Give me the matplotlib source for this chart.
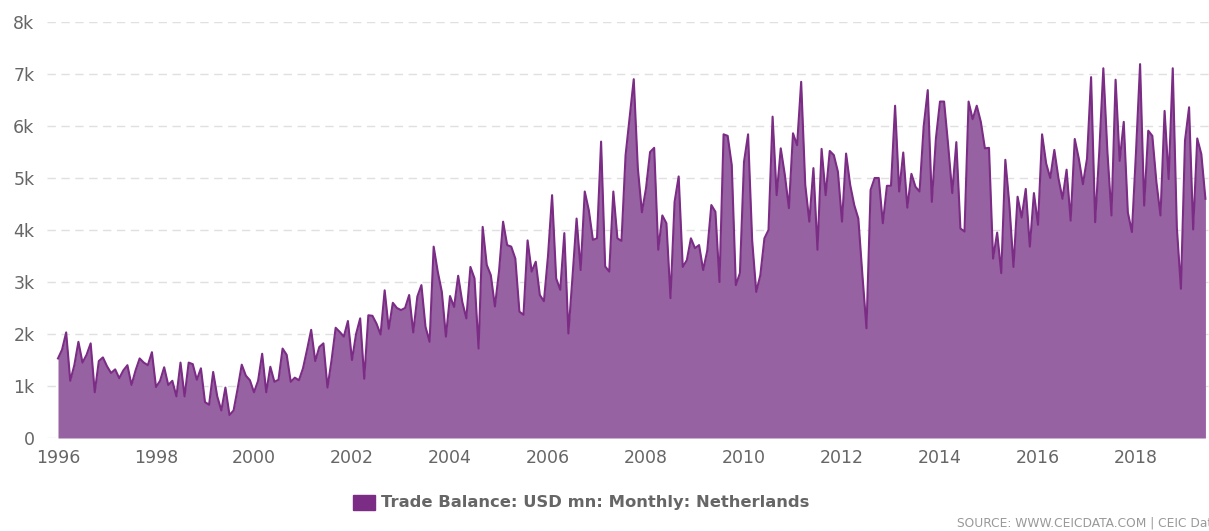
import numpy as np
import matplotlib
matplotlib.use('Agg')
import matplotlib.pyplot as plt
from matplotlib.patches import Rectangle

# Trade balance, USD mn, monthly (Netherlands), Jan 1996 - Jun 2019
y1996 = [1530, 1700, 2030, 1100, 1400, 1850, 1450, 1600, 1820, 880, 1480, 1550]
y1997 = [1380, 1250, 1320, 1150, 1300, 1400, 1020, 1300, 1530, 1450, 1400, 1650]
y1998 = [980, 1100, 1360, 1020, 1100, 800, 1450, 800, 1450, 1420, 1120, 1340]
y1999 = [690, 640, 1270, 800, 530, 970, 440, 530, 950, 1410, 1200, 1110]
y2000 = [880, 1100, 1620, 880, 1370, 1080, 1120, 1720, 1600, 1080, 1160, 1110]
y2001 = [1340, 1700, 2080, 1480, 1750, 1820, 970, 1500, 2120, 2040, 1950, 2250]
y2002 = [1500, 2000, 2300, 1140, 2360, 2350, 2200, 1990, 2840, 2100, 2600, 2500]
y2003 = [2460, 2500, 2750, 2030, 2720, 2940, 2140, 1850, 3680, 3200, 2810, 1950]
y2004 = [2730, 2520, 3120, 2620, 2300, 3290, 3070, 1720, 4060, 3330, 3130, 2530]
y2005 = [3200, 4160, 3710, 3680, 3450, 2430, 2370, 3800, 3200, 3390, 2750, 2630]
y2006 = [3500, 4670, 3070, 2850, 3940, 2010, 3100, 4220, 3230, 4740, 4380, 3810]
y2007 = [3840, 5700, 3300, 3200, 4740, 3840, 3790, 5440, 6180, 6900, 5190, 4340]
y2008 = [4800, 5500, 5580, 3620, 4280, 4130, 2690, 4540, 5030, 3290, 3420, 3840]
y2009 = [3650, 3710, 3230, 3600, 4480, 4350, 3000, 5840, 5810, 5250, 2940, 3170]
y2010 = [5310, 5840, 3800, 2810, 3130, 3840, 4000, 6180, 4670, 5570, 5060, 4420]
y2011 = [5860, 5630, 6850, 4870, 4160, 5190, 3620, 5560, 4670, 5520, 5440, 5120]
y2012 = [4160, 5470, 4870, 4480, 4220, 3130, 2110, 4770, 5000, 5000, 4130, 4850]
y2013 = [4850, 6390, 4740, 5490, 4430, 5080, 4830, 4740, 5990, 6690, 4540, 5760]
y2014 = [6470, 6470, 5630, 4710, 5690, 4030, 3970, 6470, 6130, 6390, 6080, 5570]
y2015 = [5580, 3450, 3950, 3170, 5350, 4480, 3290, 4640, 4240, 4790, 3680, 4710]
y2016 = [4100, 5840, 5280, 5000, 5540, 5000, 4600, 5160, 4180, 5750, 5370, 4880]
y2017 = [5370, 6940, 4150, 5500, 7110, 5500, 4280, 6890, 5330, 6080, 4340, 3960]
y2018 = [5500, 7190, 4470, 5910, 5810, 4920, 4280, 6290, 4980, 7110, 4050, 2870]
y2019 = [5720, 6360, 4010, 5760, 5460, 4600]

yearly = [y1996, y1997, y1998, y1999, y2000, y2001, y2002, y2003, y2004, y2005,
          y2006, y2007, y2008, y2009, y2010, y2011, y2012, y2013, y2014, y2015,
          y2016, y2017, y2018, y2019]
values = np.concatenate(yearly)
dates = 1996 + np.arange(len(values)) / 12.0

x_ticks = list(range(1996, 2019, 2))
y_ticks = list(range(0, 8001, 1000))
y_labels = ['0'] + ['%dk' % (v // 1000) for v in y_ticks[1:]]

fill_color = '#9762a1'
line_color = '#7b2c85'
text_color = '#666666'

fig = plt.figure(figsize=(12.09, 5.31), dpi=100)
ax = fig.add_axes([47 / 1209, 93 / 531, 1 - 47 / 1209, 416 / 531])

ax.fill_between(dates, 0, values, color=fill_color, linewidth=0)
ax.plot(dates, values, color=line_color, linewidth=1.5)

ax.set_xlim(1996 - 11 / 49.0, 1996 + (1209 - 58) / 49.0)
ax.set_ylim(0, 8000)
ax.set_xticks(x_ticks)
ax.set_xticklabels([str(x) for x in x_ticks])
ax.set_yticks(y_ticks)
ax.set_yticklabels(y_labels)

ax.grid(axis='y', color='#e0e0e0', linestyle=(0, (6, 4)), linewidth=1)
ax.set_axisbelow(True)
for s in ax.spines.values():
    s.set_visible(False)
ax.tick_params(axis='both', length=0, labelsize=12.5, labelcolor=text_color)
ax.tick_params(axis='y', pad=9)
ax.tick_params(axis='x', pad=8)

# legend
fig.patches.append(Rectangle((353 / 1209, 1 - 510 / 531), 22 / 1209, 15 / 531,
                             transform=fig.transFigure, color=line_color))
fig.text(381 / 1209, 1 - 503 / 531, 'Trade Balance: USD mn: Monthly: Netherlands',
         fontsize=11.8, fontweight='bold', color=text_color, va='center', ha='left')

fig.text(957 / 1209, 1 - 523 / 531, 'SOURCE: WWW.CEICDATA.COM | CEIC Data',
         fontsize=8.8, color='#999999', va='center', ha='left')

fig.savefig('out.png', dpi=100)
